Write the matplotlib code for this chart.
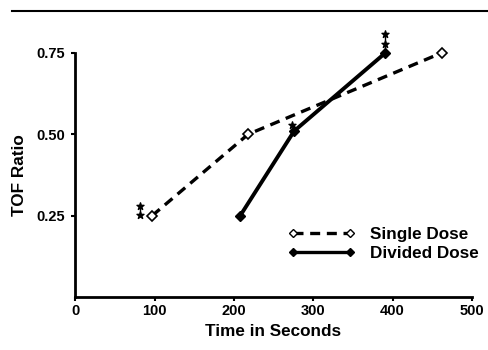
import matplotlib
matplotlib.use("Agg")
import matplotlib.pyplot as plt
from matplotlib.lines import Line2D

plt.rcParams["font.family"] = ["Liberation Sans", "DejaVu Sans"]
plt.rcParams["font.weight"] = "bold"

single_t = [97, 218, 462]
single_tof = [0.25, 0.50, 0.75]
divided_t = [208, 276, 391]
divided_tof = [0.25, 0.51, 0.75]

# significance stars (x, y)
star_t = [82, 82, 273, 390, 390]
star_y = [0.252, 0.28, 0.53, 0.778, 0.808]

x_ticks = [0, 100, 200, 300, 400, 500]
y_ticks = [0.25, 0.50, 0.75]

fig = plt.figure(figsize=(4.88, 3.5), dpi=100)
ax = fig.add_axes([0.154, 0.151, 0.813, 0.698])

ax.plot(single_t, single_tof, color="black", linestyle=(0, (3, 2)), linewidth=2.4,
        marker="D", markersize=5, markerfacecolor="white", markeredgecolor="black",
        markeredgewidth=1.2, clip_on=False, zorder=3)
ax.plot(divided_t, divided_tof, color="black", linestyle="-", linewidth=2.8,
        marker="D", markersize=5, markerfacecolor="black", markeredgecolor="black",
        clip_on=False, zorder=4)

ax.plot([82, 82], [0.252, 0.28], color="black", linewidth=1, clip_on=False)
ax.plot([390, 390], [0.76, 0.808], color="black", linewidth=1, clip_on=False)
ax.scatter(star_t, star_y, marker="*", s=28, color="black", clip_on=False, zorder=5)

ax.set_xlim(0, 500)
ax.set_ylim(0, 0.75)
ax.set_xticks(x_ticks)
ax.set_xticklabels([str(t) for t in x_ticks])
ax.set_yticks(y_ticks)
ax.set_yticklabels([f"{v:.2f}" for v in y_ticks])
ax.tick_params(axis="both", labelsize=10.5, width=1.5, length=3, pad=4)
ax.tick_params(axis="x", pad=2)

for side in ("top", "right"):
    ax.spines[side].set_visible(False)
for side in ("left", "bottom"):
    ax.spines[side].set_linewidth(2)

ax.set_xlabel("Time in Seconds", fontsize=12.3, fontweight="bold", labelpad=4)
ax.set_ylabel("TOF Ratio", fontsize=12.3, fontweight="bold", labelpad=7)

handles = [
    Line2D([0], [0], color="black", linestyle=(0, (3, 2)), linewidth=2.4, marker="D",
           markersize=4, markerfacecolor="white", markeredgecolor="black"),
    Line2D([0], [0], color="black", linestyle="-", linewidth=2.4, marker="D",
           markersize=4, markerfacecolor="black"),
]
ax.legend(handles, ["Single Dose", "Divided Dose"], loc="upper left",
          bbox_to_anchor=(0.52, 0.317), frameon=False, numpoints=2,
          handlelength=3.9, handletextpad=0.9, labelspacing=0.25,
          borderaxespad=0, prop={"weight": "bold", "size": 12.3})

fig.add_artist(Line2D([0.025, 1.0], [0.968, 0.968], color="black", linewidth=1.5))

fig.savefig("out.png", dpi=100)
